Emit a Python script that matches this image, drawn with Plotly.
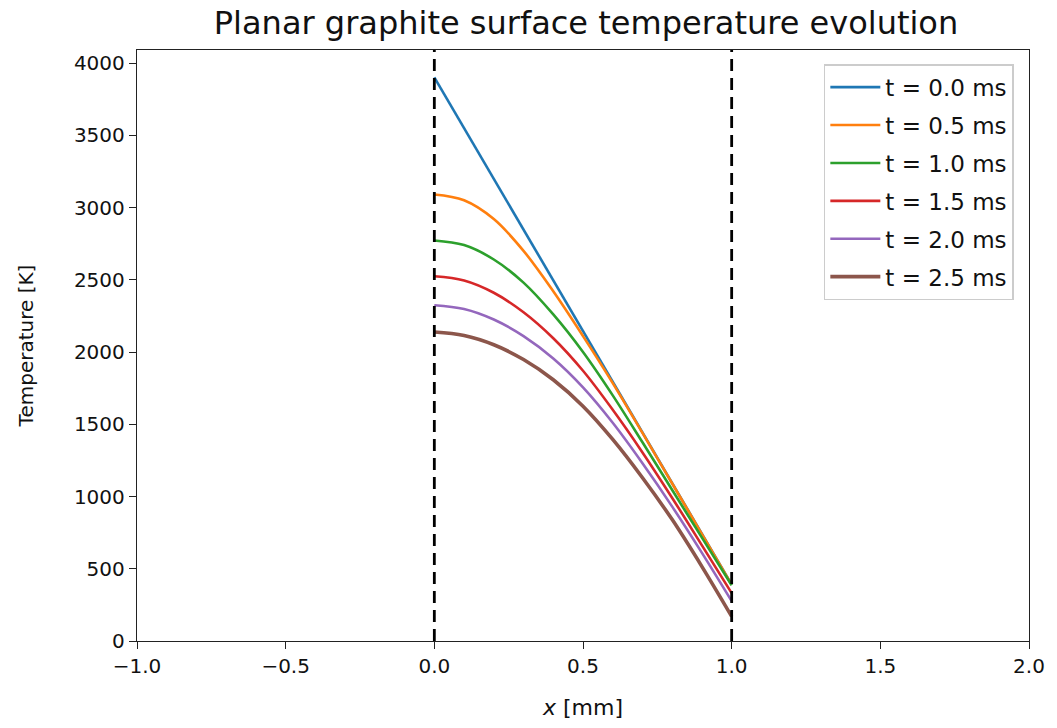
import plotly.graph_objects as go

x_pos = [0.0, 0.1, 0.2, 0.3, 0.4, 0.5, 0.6, 0.7, 0.8, 0.9, 1.0]
labels = ["t = 0.0 ms", "t = 0.5 ms", "t = 1.0 ms", "t = 1.5 ms", "t = 2.0 ms", "t = 2.5 ms"]
T_00 = [3900, 3549, 3198, 2847, 2496, 2145, 1794, 1443, 1092, 741, 390]
T_05 = [3090, 3050, 2920, 2700, 2420, 2110, 1785, 1440, 1090, 740, 390]
T_10 = [2772, 2740, 2640, 2480, 2260, 2000, 1700, 1375, 1045, 715, 386]
T_15 = [2524, 2495, 2410, 2275, 2095, 1870, 1600, 1305, 990, 662, 331]
T_20 = [2324, 2298, 2225, 2110, 1955, 1755, 1510, 1230, 930, 610, 276]
T_25 = [2138, 2114, 2050, 1948, 1808, 1625, 1395, 1130, 840, 515, 170]
series = [T_00, T_05, T_10, T_15, T_20, T_25]
colors = ["#1f77b4", "#ff7f0e", "#2ca02c", "#d62728", "#9467bd", "#8c564b"]
widths = [2.6, 2.6, 2.6, 2.6, 2.6, 3.6]
boundaries = [0.0, 1.0]

fig = go.Figure()
for i, (lab, ys) in enumerate(zip(labels, series)):
    fig.add_trace(go.Scatter(
        x=x_pos, y=ys, mode="lines", name=lab,
        line=dict(color=colors[i], width=widths[i],
                  shape="linear" if i == 0 else "spline", smoothing=1.0),
        legendgroup=str(i),
    ))

for xb in boundaries:
    fig.add_shape(type="line", x0=xb, x1=xb, xref="x", y0=0, y1=1, yref="paper",
                  line=dict(color="black", width=2.8, dash="12px,7px"))

axis_common = dict(
    showline=True, linecolor="#222", linewidth=1.4, mirror=True,
    ticks="outside", ticklen=7, tickwidth=1.4, tickcolor="#222",
    showgrid=False, zeroline=False,
    tickfont=dict(family="DejaVu Sans", size=20, color="#111"),
)

fig.update_layout(
    width=1057, height=728,
    margin=dict(l=137, r=17, t=50, b=85),
    paper_bgcolor="white", plot_bgcolor="white",
    font=dict(family="DejaVu Sans", size=20, color="#111"),
    title=dict(text="Planar graphite surface temperature evolution", x=(137 + 1035) / 2 / 1057,
               xanchor="center", y=1 - 23 / 728, yanchor="middle",
               font=dict(family="DejaVu Sans", size=32, color="#111")),
    xaxis=dict(range=[-1, 2], tickvals=[-1, -0.5, 0, 0.5, 1, 1.5, 2],
               ticktext=["\u22121.0", "\u22120.5", "0.0", "0.5", "1.0", "1.5", "2.0"],
               title=dict(text="<i>x</i> [mm]", font=dict(family="DejaVu Sans", size=22), standoff=22),
               **axis_common),
    yaxis=dict(range=[0, 4090], tickvals=[0, 500, 1000, 1500, 2000, 2500, 3000, 3500, 4000],
               title=dict(text="Temperature [K]", font=dict(family="DejaVu Sans", size=20), standoff=34),
               **axis_common),
    legend=dict(x=0.983, xanchor="right", y=0.976, yanchor="top",
                bgcolor="rgba(255,255,255,0.8)", bordercolor="#cccccc", borderwidth=1.5,
                font=dict(family="DejaVu Sans", size=23, color="#111"),
                tracegroupgap=5, itemwidth=50),
    showlegend=True,
)

fig.write_html("out.html")
